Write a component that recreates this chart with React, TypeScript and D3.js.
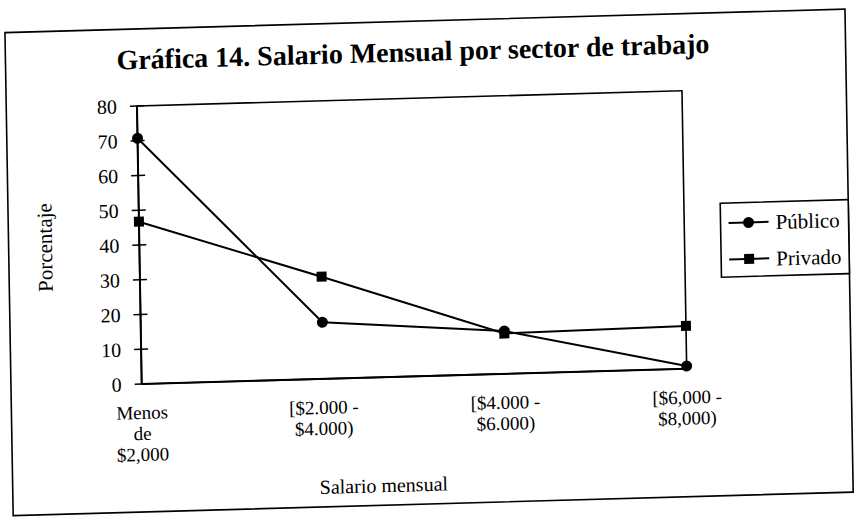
import React from "react";
import * as d3 from "d3";

const categories: string[][] = [
  ["Menos", "de", "$2,000"],
  ["[$2.000 -", "$4.000)"],
  ["[$4.000 -", "$6.000)"],
  ["[$6,000 -", "$8,000)"],
];
const publico: number[] = [70.7, 16.3, 12.3, 0.8];
const privado: number[] = [46.7, 29.4, 11.6, 12.3];
const yTicks: number[] = [0, 10, 20, 30, 40, 50, 60, 70, 80];
const seriesNames: string[] = ["Público", "Privado"];
const titleText = "Gráfica 14. Salario Mensual por sector de trabajo";
const xTitle = "Salario mensual";
const yTitle = "Porcentaje";

const W = 860;
const H = 522;
const FONT = "'Liberation Serif', 'Times New Roman', serif";

export default function App() {
  const plot = { left: 141.7, right: 686.7, top: 106, bottom: 384 };
  const x = d3
    .scalePoint<number>()
    .domain(categories.map((_, i) => i))
    .range([plot.left, plot.right])
    .padding(0);
  const y = d3.scaleLinear().domain([0, 80]).range([plot.bottom, plot.top]);
  const line = d3
    .line<number>()
    .x((_, i) => x(i) as number)
    .y((d) => y(d));

  const px = 141;
  const py = 384;
  const skew = `translate(${px},${py}) matrix(1,-0.028,0.017,1,0,0) translate(${-px},${-py})`;

  const legend = { x: 723, y: 219.5, w: 128, h: 74 };
  const rows = [legend.y + 20, legend.y + 56.5];

  return (
    <svg
      width={W}
      height={H}
      style={{ position: "absolute", left: 0, top: 0, background: "#fff" }}
      fontFamily={FONT}
    >
      <rect x={0} y={0} width={W} height={H} fill="#fff" />
      <g transform={skew}>
        {/* outer frame */}
        <rect x={11} y={29} width={840} height={483} fill="none" stroke="#000" strokeWidth={1.6} />
        {/* title */}
        <text x={122} y={69} fontSize={28} fontWeight="bold" fill="#000">
          {titleText}
        </text>
        {/* plot area border */}
        <rect
          x={plot.left}
          y={plot.top}
          width={plot.right - plot.left}
          height={plot.bottom - plot.top}
          fill="none"
          stroke="#000"
          strokeWidth={1.6}
        />
        {/* y axis */}
        <line x1={plot.left} x2={plot.left} y1={plot.top} y2={plot.bottom} stroke="#000" strokeWidth={2} />
        {yTicks.map((t) => (
          <g key={t}>
            <line x1={plot.left - 7} x2={plot.left + 7} y1={y(t)} y2={y(t)} stroke="#000" strokeWidth={1.6} />
            <text x={plot.left - 20} y={y(t)} dy="0.35em" textAnchor="end" fontSize={20} fill="#000">
              {t}
            </text>
          </g>
        ))}
        {/* x axis */}
        <line x1={plot.left} x2={plot.right} y1={plot.bottom} y2={plot.bottom} stroke="#000" strokeWidth={2} />
        {categories.map((lines, i) => (
          <text key={i} x={x(i)} y={419} textAnchor="middle" fontSize={19} fill="#000">
            {lines.map((l, j) => (
              <tspan key={j} x={x(i)} dy={j === 0 ? 0 : 21}>
                {l}
              </tspan>
            ))}
          </text>
        ))}
        {/* axis titles */}
        <text x={382} y={499} textAnchor="middle" fontSize={20} fill="#000">
          {xTitle}
        </text>
        <text
          transform={`translate(47,245) rotate(-90)`}
          textAnchor="middle"
          dy="0.35em"
          fontSize={21}
          fill="#000"
        >
          {yTitle}
        </text>
        {/* series */}
        <path d={line(publico) || ""} fill="none" stroke="#000" strokeWidth={2} />
        <path d={line(privado) || ""} fill="none" stroke="#000" strokeWidth={2} />
        {privado.map((v, i) => (
          <rect key={"s" + i} x={(x(i) as number) - 5} y={y(v) - 5} width={10} height={10} fill="#000" />
        ))}
        {publico.map((v, i) => (
          <circle key={"c" + i} cx={x(i) as number} cy={y(v)} r={5.5} fill="#000" />
        ))}
        {/* legend */}
        <rect x={legend.x} y={legend.y} width={legend.w} height={legend.h} fill="#fff" stroke="#000" strokeWidth={1.6} />
        {seriesNames.map((name, i) => (
          <g key={name}>
            <line x1={legend.x + 8} x2={legend.x + 48} y1={rows[i]} y2={rows[i]} stroke="#000" strokeWidth={2} />
            {i === 0 ? (
              <circle cx={legend.x + 28} cy={rows[i]} r={5.5} fill="#000" />
            ) : (
              <rect x={legend.x + 23} y={rows[i] - 5} width={10} height={10} fill="#000" />
            )}
            <text x={legend.x + 55} y={rows[i]} dy="0.35em" fontSize={21} fill="#000">
              {name}
            </text>
          </g>
        ))}
      </g>
    </svg>
  );
}
